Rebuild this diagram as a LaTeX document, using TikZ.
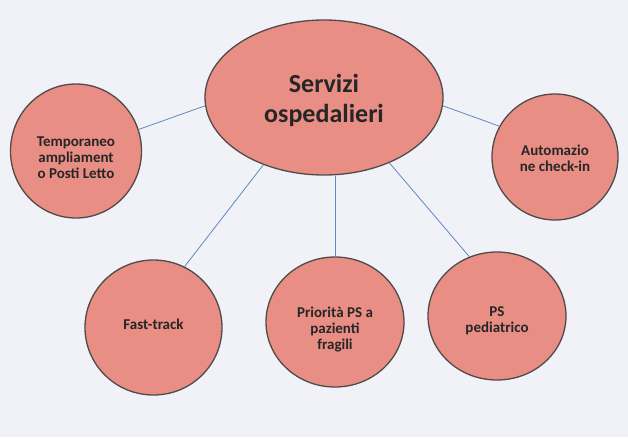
\documentclass[tikz,border=0pt]{standalone}
\usepackage{fontspec}
\setmainfont{Carlito}
\usetikzlibrary{shapes.geometric}
\definecolor{bubble}{RGB}{232,142,132}
\definecolor{rim}{RGB}{80,74,74}
\definecolor{link}{RGB}{95,135,195}
\definecolor{paper}{RGB}{241,242,247}

\begin{document}
\begin{tikzpicture}[x=1pt, y=-1pt,
        bubble/.style={ellipse, draw=rim, line width=1.3pt, fill=bubble, inner sep=0pt},
        txt/.style={align=center, text=black!85, font=\bfseries\fontsize{15}{16}\selectfont}]
        \fill[paper] (0,0) rectangle (628,437);
        \useasboundingbox (0,0) rectangle (628,437);

        \node (S) [bubble, minimum width=238pt, minimum height=155pt,
            label={[txt, yshift=-3pt, font=\bfseries\fontsize{26}{30}\selectfont]center:Servizi\\ospedalieri}] at (324,97.5) {};

        \node (T) [bubble, minimum width=131pt, minimum height=134pt,
            label={[txt, yshift=-6.5pt]center:Temporaneo\\ampliament\\o Posti Letto}] at (76,151) {};

        \node (C) [bubble, minimum width=126pt, minimum height=126pt,
            label={[txt, yshift=-1pt]center:Automazio\\ne check-in}] at (555,157) {};

        \node (F) [bubble, minimum width=137pt, minimum height=135pt,
            label={[txt, yshift=3pt]center:Fast-track}] at (153.5,327.5) {};

        \node (P) [bubble, minimum width=138pt, minimum height=130pt,
            label={[txt, yshift=-7pt]center:Priorità PS a\\pazienti\\fragili}] at (335,322) {};

        \node (D) [bubble, minimum width=138pt, minimum height=128pt,
            label={[txt, yshift=-5pt]center:PS\\pediatrico}] at (497,316) {};

        % Drawing lines from the centre to the services
        \draw[draw=link, line width=0.8pt] (S.184.5) -- (T.19);
        \draw[draw=link, line width=0.8pt] (S.-4.5) -- (C.151.5);
        \draw[draw=link, line width=0.8pt] (S.228.8) -- (F.63.6);
        \draw[draw=link, line width=0.8pt] (P.north) -- (P.north |- S.south);
        \draw[draw=link, line width=0.8pt] (S.-45.2) -- (D.115.8);
    \end{tikzpicture}
\end{document}
